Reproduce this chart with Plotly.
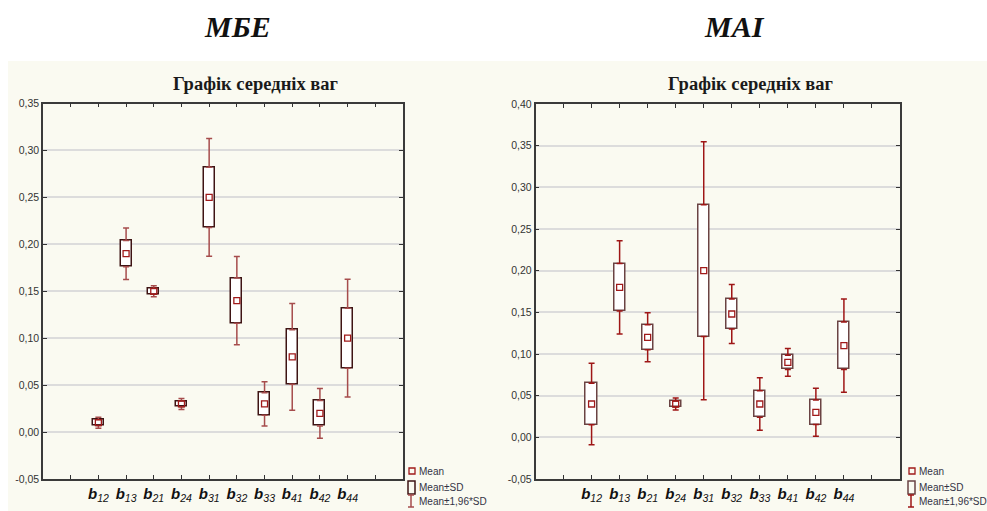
import plotly.graph_objects as go

# ---------------- data ----------------
categories = ["b12", "b13", "b21", "b24", "b31", "b32", "b33", "b41", "b42", "b44"]
tick_labels = ["<b><i>b</i></b><i><sub>%s</sub></i>" % c[1:] for c in categories]

mbe_mean = [0.010, 0.190, 0.150, 0.030, 0.250, 0.140, 0.030, 0.080, 0.020, 0.100]
mbe_sd = [0.003, 0.014, 0.003, 0.003, 0.032, 0.024, 0.012, 0.029, 0.0135, 0.032]

mai_mean = [0.040, 0.180, 0.120, 0.040, 0.200, 0.148, 0.040, 0.090, 0.030, 0.110]
mai_sd = [0.025, 0.0285, 0.015, 0.0036, 0.079, 0.018, 0.016, 0.0085, 0.0147, 0.0285]

mbe_yticks = [-0.05, 0.00, 0.05, 0.10, 0.15, 0.20, 0.25, 0.30, 0.35]
mai_yticks = [-0.05, 0.00, 0.05, 0.10, 0.15, 0.20, 0.25, 0.30, 0.35, 0.40]

panel_headings = ["МБЕ", "МАІ"]
chart_title = "Графік середніх ваг"
legend_texts = ["Mean", "Mean±SD", "Mean±1,96*SD"]
K = 1.96

# ---------------- geometry helpers ----------------
W, H = 987, 511
def px(x):
    return x / W
def py(y):
    return 1 - y / H

# placeholders for the empty end ticks
cat_array = [" "] + categories + ["  "]
tick_text = [""] + tick_labels + [""]

fig = go.Figure()

panels = [
    dict(mean=mbe_mean, sd=mbe_sd, xa="x", ya="y", box="#3E1414", wh="#A64C4C"),
    dict(mean=mai_mean, sd=mai_sd, xa="x2", ya="y2", box="#6A4343", wh="#9E1616"),
]
mean_col = "#A01A1A"

for p in panels:
    m, s = p["mean"], p["sd"]
    # box: mean ± SD
    fig.add_trace(go.Bar(
        x=categories, y=[2 * v for v in s], base=[a - b for a, b in zip(m, s)],
        width=0.4, marker=dict(color="white", line=dict(color=p["box"], width=1.5)),
        xaxis=p["xa"], yaxis=p["ya"], showlegend=False, hoverinfo="skip"))
    # upper whisker: from mean+SD to mean+1.96SD
    fig.add_trace(go.Scatter(
        x=categories, y=[a + b for a, b in zip(m, s)], mode="markers",
        marker=dict(size=1, color="rgba(0,0,0,0)"),
        error_y=dict(type="data", symmetric=False,
                     array=[(K - 1) * b for b in s], arrayminus=[0] * len(s),
                     color=p["wh"], thickness=1.5, width=3),
        xaxis=p["xa"], yaxis=p["ya"], showlegend=False, hoverinfo="skip"))
    # lower whisker
    fig.add_trace(go.Scatter(
        x=categories, y=[a - b for a, b in zip(m, s)], mode="markers",
        marker=dict(size=1, color="rgba(0,0,0,0)"),
        error_y=dict(type="data", symmetric=False,
                     array=[0] * len(s), arrayminus=[(K - 1) * b for b in s],
                     color=p["wh"], thickness=1.5, width=3),
        xaxis=p["xa"], yaxis=p["ya"], showlegend=False, hoverinfo="skip"))
    # mean
    fig.add_trace(go.Scatter(
        x=categories, y=m, mode="markers",
        marker=dict(symbol="square-open", size=6, color=mean_col, line=dict(width=1.3, color=mean_col)),
        xaxis=p["xa"], yaxis=p["ya"], showlegend=False, hoverinfo="skip"))

def fmt(v):
    return ("%.2f" % v).replace(".", ",")

axis_common_x = dict(
    type="category", categoryorder="array", categoryarray=cat_array,
    range=[-1, len(cat_array)], tickmode="array", tickvals=cat_array, ticktext=tick_text,
    ticks="inside", ticklen=4, tickwidth=1.2, tickcolor="#333",
    showline=True, linecolor="#3a3a3a", linewidth=1.5, mirror="ticks",
    showgrid=False, zeroline=False, fixedrange=True, automargin=False,
    tickfont=dict(family="Liberation Sans, Arial", size=15, color="#111"),
)
axis_common_y = dict(
    ticks="inside", ticklen=4, tickwidth=1.2, tickcolor="#333",
    showline=True, linecolor="#3a3a3a", linewidth=1.5, mirror="ticks",
    showgrid=True, gridcolor="#DCDCDC", gridwidth=1.5, zeroline=False, fixedrange=True,
    automargin=False,
    tickfont=dict(family="Liberation Sans, Arial", size=10.5, color="#333"),
    tickmode="array",
)

fig.update_layout(
    width=W, height=H, autosize=False,
    margin=dict(l=0, r=0, t=0, b=0, pad=0, autoexpand=False),
    paper_bgcolor="white", plot_bgcolor="white",
    bargap=0, barmode="overlay",
    xaxis=dict(domain=[px(43), px(403)], anchor="y", **axis_common_x),
    yaxis=dict(domain=[py(479), py(103.5)], anchor="x", range=[-0.05, 0.35],
               tickvals=mbe_yticks, ticktext=[fmt(v) for v in mbe_yticks], **axis_common_y),
    xaxis2=dict(domain=[px(535.5), px(900)], anchor="y2", **axis_common_x),
    yaxis2=dict(domain=[py(479), py(104)], anchor="x2", range=[-0.05, 0.40],
                tickvals=mai_yticks, ticktext=[fmt(v) for v in mai_yticks], **axis_common_y),
    showlegend=False,
)

shapes = [dict(type="rect", xref="paper", yref="paper", x0=px(8), x1=1, y0=0, y1=py(61),
               fillcolor="#FAFAF1", line=dict(width=0), layer="below")]
annotations = []

# headings and titles
for cx, txt in [(237, panel_headings[0]), (734, panel_headings[1])]:
    annotations.append(dict(x=px(cx), y=py(26), xref="paper", yref="paper", text="<b><i>%s</i></b>" % txt,
                            showarrow=False, xanchor="center", yanchor="middle",
                            font=dict(family="Liberation Serif, Times New Roman", size=30, color="#111")))
for cx in (255, 750):
    annotations.append(dict(x=px(cx), y=py(84), xref="paper", yref="paper", text="<b>%s</b>" % chart_title,
                            showarrow=False, xanchor="center", yanchor="middle",
                            font=dict(family="Liberation Serif, Times New Roman", size=18.5, color="#1a1a1a")))

# legends (icons + text)
for lx, boxcol, whcol in [(412, panels[0]["box"], panels[0]["wh"]), (912, panels[1]["box"], panels[1]["wh"])]:
    rows = [471, 487, 501]
    shapes.append(dict(type="rect", xref="paper", yref="paper", x0=px(lx - 3), x1=px(lx + 3),
                       y0=py(rows[0] + 3), y1=py(rows[0] - 3), line=dict(color=mean_col, width=1.3)))
    shapes.append(dict(type="rect", xref="paper", yref="paper", x0=px(lx - 4), x1=px(lx + 3),
                       y0=py(494), y1=py(481), line=dict(color=boxcol, width=1.5)))
    shapes.append(dict(type="line", xref="paper", yref="paper", x0=px(lx - 1), x1=px(lx - 1),
                       y0=py(495), y1=py(507), line=dict(color=whcol, width=1.5)))
    for yy in (495, 507):
        shapes.append(dict(type="line", xref="paper", yref="paper", x0=px(lx - 4), x1=px(lx + 2),
                           y0=py(yy), y1=py(yy), line=dict(color=whcol, width=1.5)))
    for t, yy in zip(legend_texts, rows):
        annotations.append(dict(x=px(lx + 5), y=py(yy), xref="paper", yref="paper", text=t,
                                showarrow=False, xanchor="left", yanchor="middle",
                                font=dict(family="Liberation Sans, Arial", size=10, color="#333344")))

fig.update_layout(shapes=shapes, annotations=annotations)
fig.write_html("out.html", config={"displayModeBar": False},
               post_script="document.body.style.margin='0';document.body.style.overflow='hidden';")
